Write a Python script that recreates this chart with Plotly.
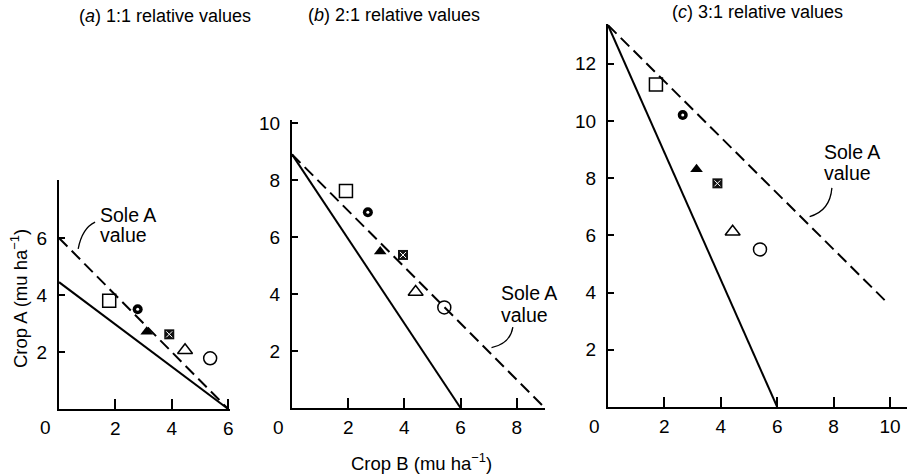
import plotly.graph_objects as go

W, H = 911, 474

# ---------------- data ----------------
panel_titles = ["(<i>a</i>) 1:1 relative values",
                "(<i>b</i>) 2:1 relative values",
                "(<i>c</i>) 3:1 relative values"]

# intercropping treatments (Crop B yield, Crop A yield)
crop_b_a = [1.78, 2.79, 3.11, 3.91, 4.47, 5.36]
crop_a_a = [3.80, 3.50, 2.71, 2.62, 2.06, 1.78]
crop_b_b = [1.92, 2.70, 3.14, 3.95, 4.40, 5.42]
crop_a_b = [7.61, 6.87, 5.49, 5.37, 4.07, 3.53]
crop_b_c = [1.70, 2.65, 3.14, 3.88, 4.42, 5.39]
crop_a_c = [11.28, 10.21, 8.31, 7.82, 6.13, 5.51]

# iso-value lines: solid and dashed (sole A value)
solid_x_a, solid_y_a = [0, 6], [4.45, 0]
dash_x_a, dash_y_a = [0, 6], [6.0, 0]
solid_x_b, solid_y_b = [0, 6], [8.9, 0]
dash_x_b, dash_y_b = [0, 9], [8.9, 0]
solid_x_c, solid_y_c = [0, 6], [13.35, 0]
dash_x_c, dash_y_c = [0, 9.9], [13.35, 3.65]

xticks_a, yticks_a = [2, 4, 6], [2, 4, 6]
xticks_b, yticks_b = [2, 4, 6, 8], [2, 4, 6, 8, 10]
xticks_c, yticks_c = [2, 4, 6, 8, 10], [2, 4, 6, 8, 10, 12]

x_title = "Crop B (mu ha<sup>−1</sup>)"
y_title = "Crop A (mu ha<sup>−1</sup>)"
sole_line1 = "Sole A"
sole_line2 = "value"

# ---------------- layout geometry (pixels) ----------------
# (x px of origin, y px of origin, px per unit x, px per unit y, xmax, ymax)
geom = [
    (59, 409, 28.2, 28.5, 6.05, 8.03),
    (292, 408, 28.1, 28.5, 9.02, 10.1),
    (608, 407, 28.2, 28.6, 10.6, 13.4),
]

FONT = "Liberation Sans, Arial, Helvetica, sans-serif"

fig = go.Figure()

panels = [
    (crop_b_a, crop_a_a, solid_x_a, solid_y_a, dash_x_a, dash_y_a, xticks_a, yticks_a),
    (crop_b_b, crop_a_b, solid_x_b, solid_y_b, dash_x_b, dash_y_b, xticks_b, yticks_b),
    (crop_b_c, crop_a_c, solid_x_c, solid_y_c, dash_x_c, dash_y_c, xticks_c, yticks_c),
]

# marker styles for the six treatments
styles = [
    dict(symbol="square-open", size=13, color="black", line=dict(width=1.5, color="black")),
    dict(symbol="circle", size=10, color="black", line=dict(width=0)),
    dict(symbol="triangle-up", size=11, color="black", line=dict(width=0)),
    dict(symbol="square", size=10, color="#111", line=dict(width=0)),
    dict(symbol="triangle-up-open", size=13, color="black", line=dict(width=1.5, color="black")),
    dict(symbol="circle-open", size=13, color="black", line=dict(width=1.5, color="black")),
]

annotations = []
shapes = []

for i, (bx, ay, sx, sy, dx, dy, xt, yt) in enumerate(panels):
    xa = "x" if i == 0 else f"x{i+1}"
    ya = "y" if i == 0 else f"y{i+1}"
    x0, y0, ppx, ppy, xmax, ymax = geom[i]
    xdom = [x0 / W, (x0 + xmax * ppx) / W]
    ydom = [1 - y0 / H, 1 - (y0 - ymax * ppy) / H]
    axis_common = dict(showgrid=False, zeroline=False, showline=True, linecolor="black",
                       linewidth=2, ticks="inside", tickcolor="black", tickwidth=2,
                       tickfont=dict(family=FONT, size=19, color="black"),
                       automargin=False, fixedrange=True)
    fig.update_layout({
        ("xaxis" if i == 0 else f"xaxis{i+1}"): dict(domain=xdom, range=[0, xmax], anchor=ya,
                                                     tickvals=xt, ticklen=10,
                                                     ticklabelstandoff=1, **axis_common),
        ("yaxis" if i == 0 else f"yaxis{i+1}"): dict(domain=ydom, range=[0, ymax], anchor=xa,
                                                     tickvals=yt, ticklen=6,
                                                     ticklabelstandoff=6, **axis_common),
    })

    fig.add_trace(go.Scatter(x=sx, y=sy, mode="lines", xaxis=xa, yaxis=ya,
                             line=dict(color="black", width=2), cliponaxis=False))
    fig.add_trace(go.Scatter(x=dx, y=dy, mode="lines", xaxis=xa, yaxis=ya,
                             line=dict(color="black", width=2, dash="12px,6px"), cliponaxis=False))
    for k in range(6):
        fig.add_trace(go.Scatter(x=[bx[k]], y=[ay[k]], mode="markers", xaxis=xa, yaxis=ya,
                                 marker=styles[k], cliponaxis=False))
    # inner details of the dotted circle and patterned square
    fig.add_trace(go.Scatter(x=[bx[1]], y=[ay[1]], mode="markers", xaxis=xa, yaxis=ya,
                             marker=dict(symbol="circle", size=3, color="white"), cliponaxis=False))
    fig.add_trace(go.Scatter(x=[bx[3]], y=[ay[3]], mode="markers", xaxis=xa, yaxis=ya,
                             marker=dict(symbol="x-thin-open", size=6, color="white",
                                         line=dict(width=1, color="white")), cliponaxis=False))

    # "0" at the corner
    annotations.append(dict(x=0, y=0, xref=xa, yref=ya, text="0", showarrow=False,
                            xanchor="center", yanchor="middle",
                            xshift=-14, yshift=-19, font=dict(family=FONT, size=19, color="black")))

# panel titles
title_pos = [(165, 16), (394, 15), (757, 12)]
for t, (px, py) in zip(panel_titles, title_pos):
    annotations.append(dict(x=px / W, y=1 - py / H, xref="paper", yref="paper", text=t,
                            showarrow=False, xanchor="center", yanchor="middle",
                            font=dict(family=FONT, size=18, color="black")))

# axis titles
annotations.append(dict(x=421 / W, y=1 - 462 / H, xref="paper", yref="paper", text=x_title,
                        showarrow=False, xanchor="center", yanchor="middle",
                        font=dict(family=FONT, size=18.5, color="black")))
annotations.append(dict(x=19 / W, y=1 - 299 / H, xref="paper", yref="paper", text=y_title,
                        showarrow=False, textangle=-90, xanchor="center", yanchor="middle",
                        font=dict(family=FONT, size=18.5, color="black")))

# "Sole A value" labels with curved arrows: (text x, line1 y, line2 y, start, control, tip) in data units
sole = [
    ("x", "y", 1.40, 6.80, 6.10, (1.28, 6.56), (0.82, 6.35), (0.68, 5.62)),
    ("x2", "y2", 7.37, 4.03, 3.26, (7.86, 2.84), (7.76, 2.25), (7.10, 2.12)),
    ("x3", "y3", 7.59, 8.91, 8.18, (7.94, 7.66), (7.87, 6.85), (7.15, 6.66)),
]
for xa, ya, tx, ty1, ty2, p0, pc, p1 in sole:
    for txt, ty in ((sole_line1, ty1), (sole_line2, ty2)):
        annotations.append(dict(x=tx, y=ty, xref=xa, yref=ya, text=txt, showarrow=False,
                                xanchor="left", yanchor="middle", align="left",
                                font=dict(family=FONT, size=19.5, color="black")))
    shapes.append(dict(type="path", xref=xa, yref=ya,
                       path=f"M {p0[0]} {p0[1]} Q {pc[0]} {pc[1]} {p1[0]} {p1[1]}",
                       line=dict(color="black", width=1.3)))
    # arrow head
    annotations.append(dict(x=p1[0], y=p1[1], ax=(pc[0] + p1[0]) / 2 * 0.3 + p1[0] * 0.7,
                            ay=(pc[1] + p1[1]) / 2 * 0.3 + p1[1] * 0.7,
                            xref=xa, yref=ya, axref=xa, ayref=ya, text="", showarrow=True,
                            arrowhead=2, arrowsize=1.2, arrowwidth=1.3, arrowcolor="black",
                            standoff=0))

fig.update_layout(width=W, height=H, margin=dict(l=0, r=0, t=0, b=0),
                  paper_bgcolor="white", plot_bgcolor="white", showlegend=False,
                  annotations=annotations, shapes=shapes,
                  font=dict(family=FONT, color="black"))

fig.write_html("out.html", config={"displayModeBar": False},
               post_script="document.body.style.margin='0px';document.body.style.overflow='hidden';")
